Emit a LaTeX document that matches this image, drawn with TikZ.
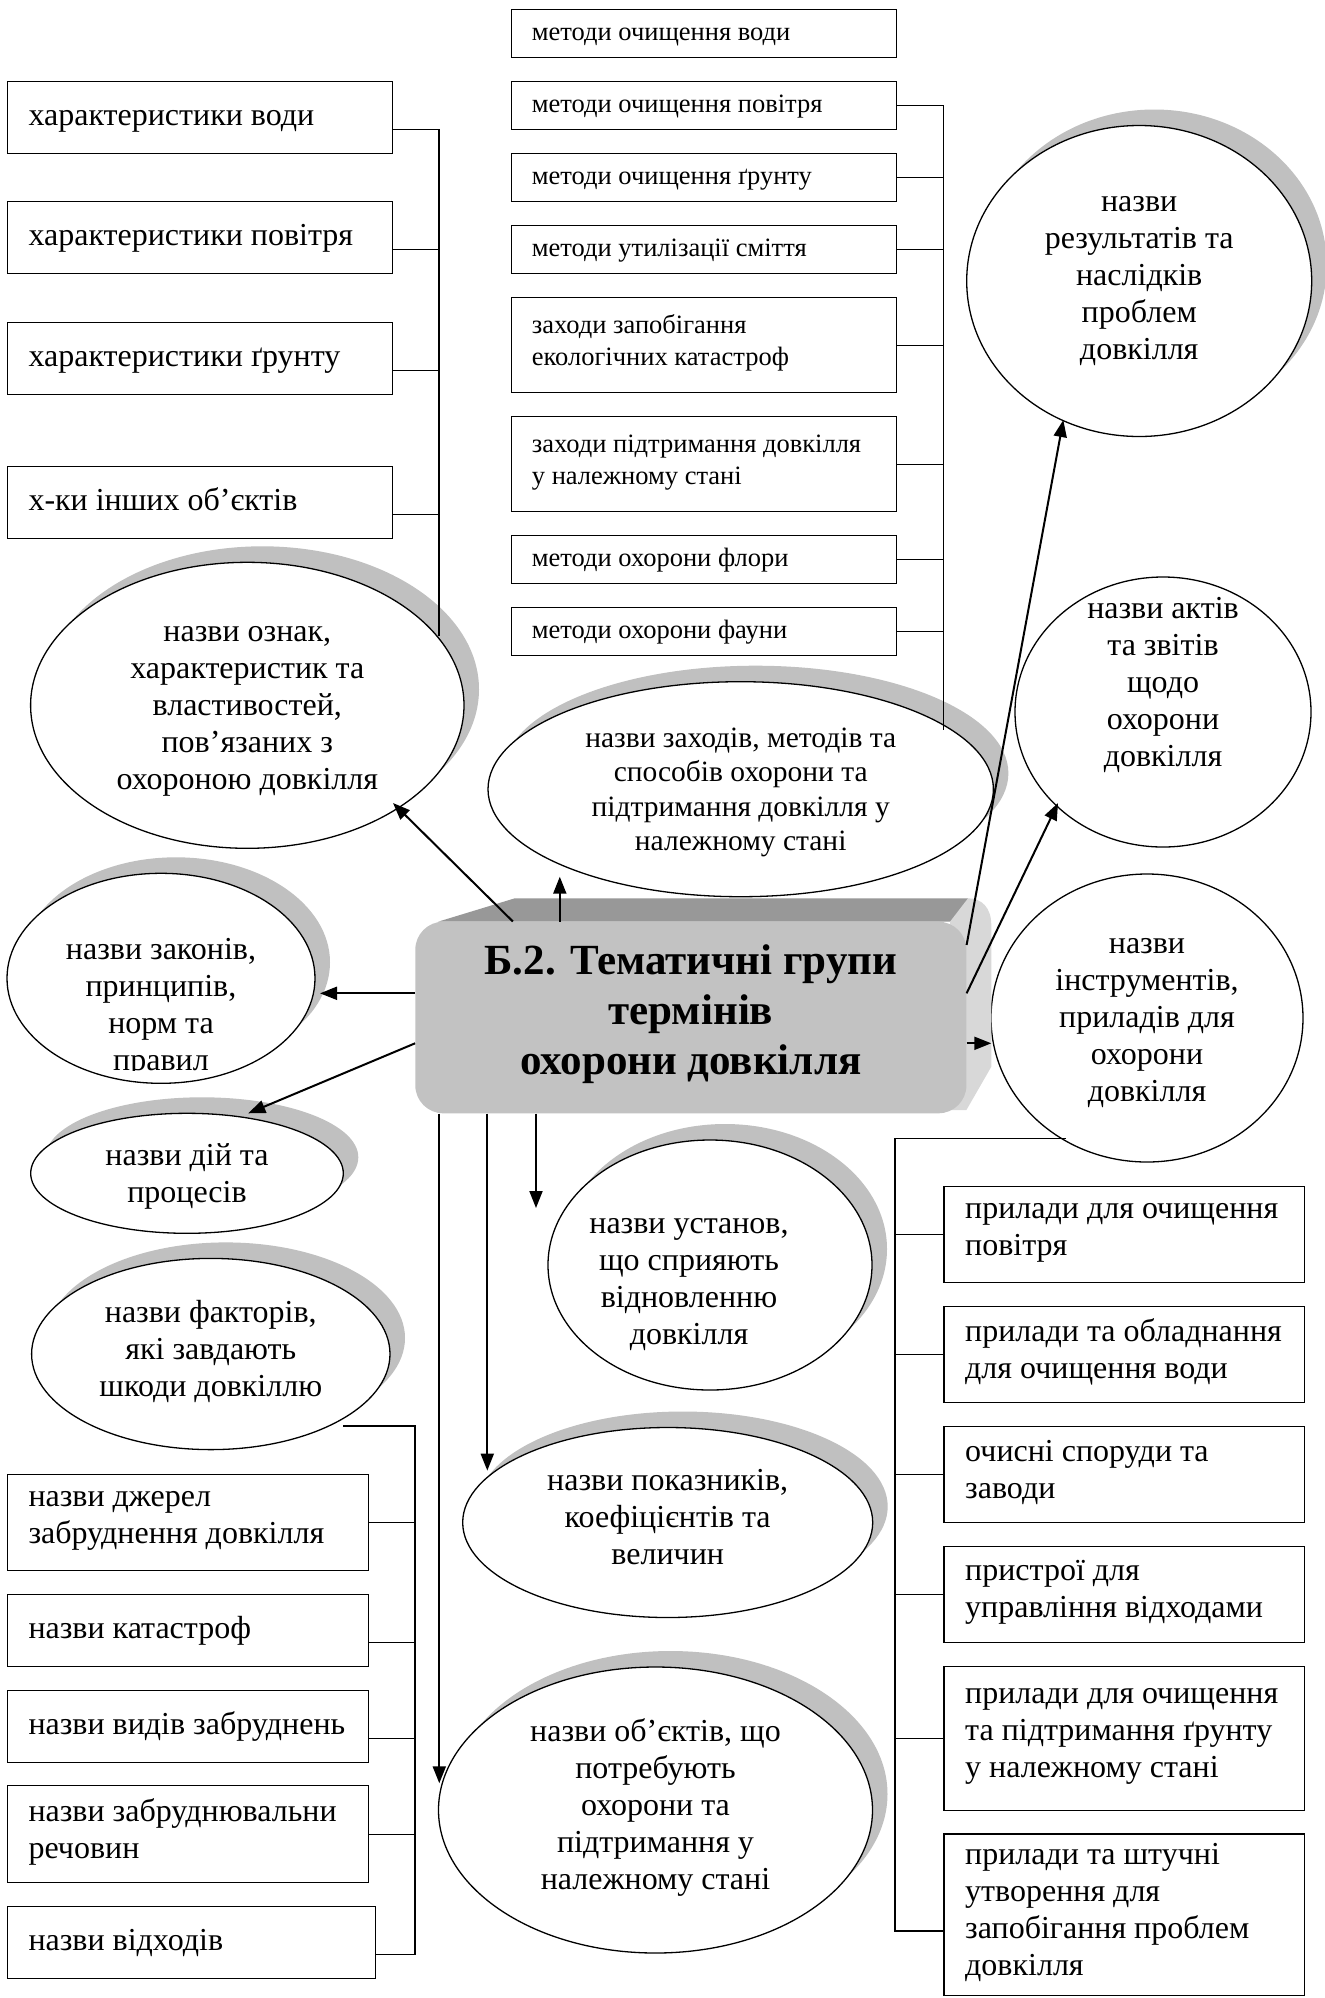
\documentclass[tikz,border=0pt]{standalone}
\usepackage{fontspec}
\setmainfont{Liberation Serif}
\usetikzlibrary{shapes.geometric,arrows.meta,shadows}
\definecolor{shadowgrey}{RGB}{192,192,192}
\definecolor{frontgrey}{RGB}{194,194,194}
\definecolor{topgrey}{RGB}{152,152,152}
\definecolor{sidegrey}{RGB}{216,216,216}
\tikzset{
  txt/.style={inner sep=0pt, font=\fontsize{32}{37}\selectfont,
    execute at begin node=\strut, execute at end node=\strut},
  otext/.style={txt, align=center},
  btext/.style={txt, align=left, anchor=west},
  mtext/.style={btext, font=\fontsize{26.5}{32}\selectfont},
  oval/.style={ellipse, draw, line width=1.3pt, fill=white, inner sep=0pt},
  shadowed/.style={drop shadow={shadow xshift=15pt, shadow yshift=16pt, fill=shadowgrey, opacity=1}},
  frame/.style={draw, line width=1.4pt, fill=white, inner sep=0pt, anchor=north west},
  lframe/.style={frame, minimum width=385pt, minimum height=72pt},
  mframe/.style={frame, minimum width=385pt},
  bframe/.style={frame, minimum width=361pt},
  pframe/.style={frame, minimum width=360.7pt},
  conn/.style={line width=1.3pt},
  arr/.style={line width=2pt, -{Triangle[length=17pt,width=13pt]}},
  title/.style={fill=frontgrey, rounded corners=28pt, inner sep=0pt, align=center,
    font=\bfseries\fontsize{43}{50}\selectfont,
    execute at begin node=\strut, execute at end node=\strut},
}
\begin{document}
\begin{tikzpicture}[x=1pt,y=-1pt]
\fill[white] (0,0) rectangle (1325,1998);
\useasboundingbox (0,0) rectangle (1325,1998);

% ---- characteristics (top left)
\node[lframe] (L1) at (7,81) {};
\node[btext] (L1t) at ([xshift=21.3pt]L1.west) {характеристики води};
\node[lframe] (L2) at (7,201) {};
\node[btext] (L2t) at ([xshift=21.3pt]L2.west) {характеристики повітря};
\node[lframe] (L3) at (7,322) {};
\node[btext] (L3t) at ([xshift=21.3pt]L3.west) {характеристики ґрунту};
\node[lframe] (L4) at (7,466) {};
\node[btext] (L4t) at ([xshift=21.3pt]L4.west) {х-ки інших об’єктів};

% ---- methods (top middle)
\node[mframe, minimum height=48pt] (M1) at (511,9) {};
\node[mtext] (M1t) at ([xshift=20.7pt]M1.west) {методи очищення води};
\node[mframe, minimum height=48pt] (M2) at (511,81) {};
\node[mtext] (M2t) at ([xshift=20.7pt]M2.west) {методи очищення повітря};
\node[mframe, minimum height=48pt] (M3) at (511,153) {};
\node[mtext] (M3t) at ([xshift=20.7pt]M3.west) {методи очищення ґрунту};
\node[mframe, minimum height=48pt] (M4) at (511,225) {};
\node[mtext] (M4t) at ([xshift=20.7pt]M4.west) {методи утилізації сміття};
\node[mframe, minimum height=95pt] (M5) at (511,297) {};
\node[mtext] (M5t) at ([xshift=20.7pt]M5.west) {заходи запобігання\\екологічних катастроф};
\node[mframe, minimum height=95pt] (M6) at (511,416) {};
\node[mtext] (M6t) at ([xshift=20.7pt]M6.west) {заходи підтримання довкілля\\у належному стані};
\node[mframe, minimum height=48pt] (M7) at (511,535) {};
\node[mtext] (M7t) at ([xshift=20.7pt]M7.west) {методи охорони флори};
\node[mframe, minimum height=48pt] (M8) at (511,607) {};
\node[mtext] (M8t) at ([xshift=20.7pt]M8.west) {методи охорони фауни};

% ---- harmful factors (bottom left)
\node[bframe, minimum height=96pt] (B1) at (6.7,1474) {};
\node[btext] (B1t) at ([xshift=21.6pt]B1.west) {назви джерел\\забруднення довкілля};
\node[bframe, minimum height=72pt] (B2) at (6.7,1594) {};
\node[btext] (B2t) at ([xshift=21.6pt]B2.west) {назви катастроф};
\node[bframe, minimum height=72pt] (B3) at (6.7,1690) {};
\node[btext] (B3t) at ([xshift=21.6pt]B3.west) {назви видів забруднень};
\node[bframe, minimum height=97pt] (B4) at (6.7,1785) {};
\node[btext] (B4t) at ([xshift=21.6pt]B4.west) {назви забруднювальни\\речовин};
\node[frame, minimum width=368.3pt, minimum height=72pt] (B5) at (6.7,1906) {};
\node[btext] (B5t) at ([xshift=21.6pt]B5.west) {назви відходів};

% ---- devices (bottom right)
\node[pframe, minimum height=95.7pt] (P1) at (943.3,1186) {};
\node[btext] (P1t) at ([xshift=21.7pt]P1.west) {прилади для очищення\\повітря};
\node[pframe, minimum height=95.7pt] (P2) at (943.3,1306) {};
\node[btext] (P2t) at ([xshift=21.7pt]P2.west) {прилади та обладнання\\для очищення води};
\node[pframe, minimum height=95.7pt] (P3) at (943.3,1426) {};
\node[btext] (P3t) at ([xshift=21.7pt]P3.west) {очисні споруди та\\заводи};
\node[pframe, minimum height=95.7pt] (P4) at (943.3,1546) {};
\node[btext] (P4t) at ([xshift=21.7pt]P4.west) {пристрої для\\управління відходами};
\node[pframe, minimum height=144.3pt] (P5) at (943.3,1665.7) {};
\node[btext] (P5t) at ([xshift=21.7pt]P5.west) {прилади для очищення\\та підтримання ґрунту\\у належному стані};
\node[pframe, minimum height=161.7pt] (P6) at (943.3,1833.3) {};
\node[btext] (P6t) at ([xshift=21.7pt]P6.west) {прилади та штучні\\утворення для\\запобігання проблем\\довкілля};

% ---- thematic groups (ovals)
\node[oval, shadowed, minimum width=433.4pt, minimum height=286pt] (E1) at (247.3,705.3) {};
\node[otext] (E1t) at ([yshift=-8pt]E1.center) {назви ознак,\\характеристик та\\властивостей,\\пов’язаних з\\охороною довкілля};

\node[oval, shadowed, minimum width=505.4pt, minimum height=215pt] (E2) at (740.7,789.2) {};
\node[otext, font=\fontsize{29.5}{34.5}\selectfont] (E2t) at ([yshift=-5pt]E2.center) {назви заходів, методів та\\способів охорони та\\підтримання довкілля у\\належному стані};

\node[oval, shadowed, minimum width=345pt, minimum height=311pt] (R1) at (1139.2,281) {};
\node[otext] (R1t) at ([yshift=-3pt]R1.center) {назви\\результатів та\\наслідків\\проблем\\довкілля};

\node[oval, minimum width=296pt, minimum height=270pt] (R2) at (1163,712) {};
\node[otext] (R2t) at ([yshift=25pt]R2.center) {назви актів\\та звітів\\щодо\\охорони\\довкілля};

\node[oval, minimum width=312pt, minimum height=288pt] (R3) at (1147,1018) {};
\node[otext] (R3t) at ([yshift=-7pt]R3.center) {назви\\інструментів,\\приладів для\\охорони\\довкілля};

\node[oval, shadowed, minimum width=308pt, minimum height=210pt] (E3) at (161,978.3) {};
\begin{scope}
  \clip (0,860) rectangle (340,1070);
  \node[otext] (E3t) at (161,1010) {назви законів,\\принципів,\\норм та\\правил};
\end{scope}

\node[oval, shadowed, minimum width=312.6pt, minimum height=120pt] (E6) at (187,1173.3) {};
\node[otext] (E6t) at ([yshift=-5pt]E6.center) {назви дій та\\процесів};

\node[oval, shadowed, minimum width=358.4pt, minimum height=191.2pt] (E8) at (210.8,1354) {};
\node[otext] (E8t) at (E8) {назви факторів,\\які завдають\\шкоди довкіллю};

\node[oval, shadowed, minimum width=324pt, minimum height=250pt] (E4) at (710,1265) {};
\node[otext] (E4t) at ([xshift=-21pt,yshift=-22pt]E4.center) {назви установ,\\що сприяють\\відновленню\\довкілля};

\node[oval, shadowed, minimum width=410pt, minimum height=190pt] (E5) at (667.7,1522.5) {};
\node[otext] (E5t) at (E5) {назви показників,\\коефіцієнтів та\\величин};

\node[oval, shadowed, minimum width=434pt, minimum height=286pt] (E7) at (655.5,1810) {};
\node[otext] (E7t) at (E7) {назви об’єктів, що\\потребують\\охорони та\\підтримання у\\належному стані};

% ---- central block with its bevel
\fill[topgrey] (438,921.7) -- (514.8,898.3) -- (968,898.3) -- (958,921.7) -- cycle;
\fill[sidegrey] (950,921.7) -- (968,898.3) .. controls (982,898.3) and (991.3,908) .. (991.3,925)
  -- (991.3,1066.7) -- (966.4,1110) -- (950,1110) -- cycle;
\node[title, minimum width=551.1pt, minimum height=191.6pt] (ctr) at (690.85,1017.5)
  {Б.2. Тематичні групи\\термінів\\охорони довкілля};

% ---- brackets
\coordinate (fL) at (439,636);
\draw[conn] ([yshift=-11.5pt]L1.east) -| (fL);
\foreach \b in {L2,L3,L4}
  \draw[conn] ([yshift=-11.5pt]\b.east) -- ([yshift=-11.5pt]\b.east -| fL);

\coordinate (fM) at (943.3,730);
\draw[conn] (M2.east) -| (fM);
\foreach \b in {M3,M4,M5,M6,M7,M8}
  \draw[conn] (\b.east) -- (\b.east -| fM);

\coordinate (sB) at (343.3,1426);
\coordinate (kB) at (415,1426);
\draw[conn] (sB) -- (kB) |- ([yshift=-11.5pt]B5.east);
\foreach \b/\s in {B1/0,B2/-11.5,B3/-11.5,B4/0}
  \draw[conn] ([yshift=\s pt]\b.east) -- ([yshift=\s pt]\b.east -| kB);

\coordinate (sP) at (1066,1138.3);
\coordinate (kP) at (895,1138.3);
\draw[conn] (sP) -- (kP) |- ([yshift=-16pt]P6.west);
\foreach \b in {P1,P2,P3,P4,P5}
  \draw[conn] (\b.west) -- (\b.west -| kP);

% ---- arrows from the central block
\coordinate (tE1) at (393,803);
\draw[arr] ([xshift=-177.95pt]ctr.north) -- (tE1);
\coordinate (tE2) at (559.8,876.7);
\draw[arr] (ctr.north -| tE2) -- (tE2);
\coordinate (tE3) at (320,993.3);
\draw[arr] (ctr.west |- tE3) -- (tE3);
\coordinate (tE6) at (248.3,1113.3);
\draw[arr] ([yshift=-25.8pt]ctr.west) -- (tE6);
\coordinate (tE4) at (536,1208);
\draw[arr] (ctr.south -| tE4) -- (tE4);
\coordinate (tE5) at (487.3,1470.6);
\draw[arr] (ctr.south -| tE5) -- (tE5);
\coordinate (tE7) at (439.3,1783.3);
\draw[arr] (ctr.south -| tE7) -- (tE7);
\coordinate (tR1) at (1063.3,420);
\draw[arr] ([yshift=72.5pt]ctr.east) -- (tR1);
\coordinate (tR2) at (1058,803);
\draw[arr] ([yshift=24.2pt]ctr.east) -- (tR2);
\coordinate (tR3) at (991.3,1043.3);
\draw[arr] (ctr.east |- tR3) -- (tR3);
\end{tikzpicture}
\end{document}
